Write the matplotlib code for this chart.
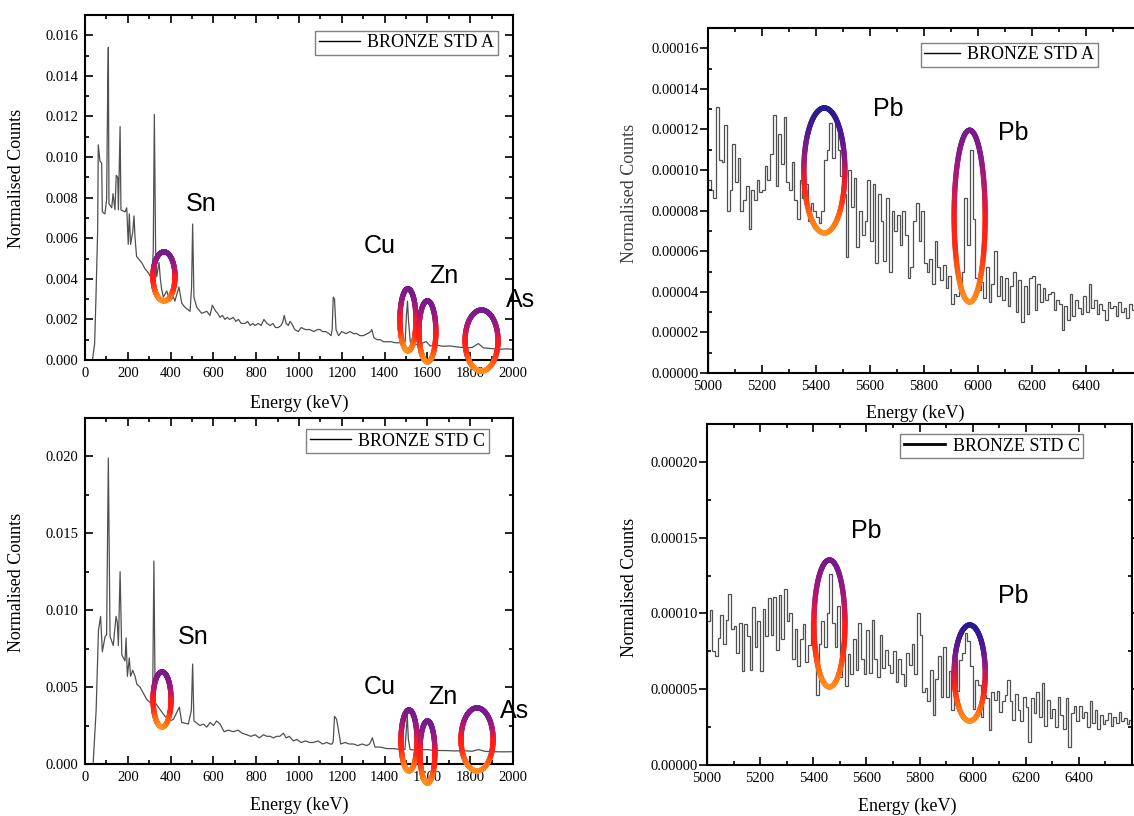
import numpy as np
import matplotlib
matplotlib.use('Agg')
import matplotlib.pyplot as plt
from matplotlib.collections import LineCollection
from matplotlib.colors import LinearSegmentedColormap
from matplotlib.ticker import MultipleLocator, FormatStrFormatter


"""Font Settings"""
plt.rcParams['font.family'] = 'serif'
plt.rcParams['font.serif'] = ['Liberation Serif', 'DejaVu Serif']
plt.rcParams['font.size'] = 10.5


"""Data: wide spectra (energy keV, normalised counts)"""
std_a_energy = [35, 45, 51, 59, 62, 70, 78, 81, 93, 101, 106, 109, 112, 125, 131, 140, 146, 153, 156,
                164, 168, 187, 195, 202, 207, 213, 223, 229, 234, 241, 257, 265, 280, 296, 312, 319,
                324, 330, 335, 346, 352, 358, 366, 382, 397, 413, 420, 439, 452, 467, 491, 498, 503,
                509, 522, 545, 569, 584, 595,
                611, 620, 631, 642, 654, 665, 676, 693, 705, 717, 730, 748, 760, 772, 784, 794, 810,
                823, 836, 850, 865, 878, 890, 903, 916, 925, 931, 940, 950, 958, 966, 980, 997, 1010,
                1030, 1050, 1070, 1085, 1098, 1110, 1125, 1140, 1150, 1155, 1160, 1166, 1173, 1185,
                1200, 1220, 1238, 1255, 1270, 1285, 1300, 1320, 1335, 1340, 1350, 1365, 1380, 1395,
                1411, 1430, 1450, 1473, 1490, 1496, 1502, 1507, 1512, 1520, 1543, 1570, 1594, 1613,
                1640, 1670, 1706, 1740, 1784, 1810, 1838, 1862, 1900, 1940, 1970, 1994]
std_a_counts = [0.0, 0.0008, 0.0030, 0.0063, 0.0106, 0.0098, 0.0097, 0.0073, 0.0072, 0.0079, 0.0133,
                0.0154, 0.0077, 0.0075, 0.0082, 0.0074, 0.0091, 0.0090, 0.0074, 0.0115, 0.0074,
                0.0073, 0.0075, 0.0057, 0.0072, 0.0057, 0.0063, 0.0071, 0.0060, 0.0051, 0.0049,
                0.0048, 0.0045, 0.0043, 0.0040, 0.0054, 0.0121, 0.0054, 0.0041, 0.0048, 0.0040,
                0.0035, 0.0031, 0.0034, 0.0029, 0.0031, 0.0029, 0.0036, 0.0028, 0.0026, 0.0024,
                0.0036, 0.0067, 0.0031, 0.0026, 0.0023, 0.0024, 0.0022, 0.0027,
                0.0024, 0.0023, 0.0021, 0.0022, 0.0020, 0.0021, 0.0020, 0.0021, 0.0019, 0.0020,
                0.0018, 0.0018, 0.0019, 0.0017, 0.0018, 0.0017, 0.0018, 0.0017, 0.0020, 0.0018,
                0.0017, 0.0018, 0.0016, 0.0016, 0.0017, 0.0019, 0.0022, 0.0018, 0.0017, 0.0019,
                0.0018, 0.0015, 0.0014, 0.0016, 0.0015, 0.0015, 0.0014, 0.0015, 0.0015, 0.0014,
                0.0014, 0.0013, 0.0012, 0.0015, 0.0031, 0.0030, 0.0015, 0.0012, 0.0014, 0.0013,
                0.0014, 0.0013, 0.0013, 0.0012, 0.0012, 0.0013, 0.0014, 0.0015, 0.0011, 0.0010,
                0.0010, 0.0009, 0.0009, 0.0009, 0.00085, 0.00085, 0.0009, 0.0009, 0.0022, 0.0029,
                0.0019, 0.0009, 0.00076, 0.0008, 0.00091, 0.00069, 0.00074, 0.00068, 0.00069,
                0.00064, 0.0006, 0.00062, 0.00081, 0.0006, 0.00056, 0.00053, 0.00055, 0.00053]

std_c_energy = [38, 52, 63, 73, 81, 94, 101, 109, 117, 132, 145, 151, 156, 164, 172, 187, 192, 198,
                207, 213, 223, 234, 242, 257, 273, 288, 304, 316, 322, 328, 342, 358, 374, 397, 413,
                441, 452, 483, 497, 503, 509, 537, 553, 569, 585, 600, 615, 631, 650, 670, 693, 715,
                735, 756, 775, 795, 815, 834, 850, 865, 880, 895, 910, 927, 940, 955, 974, 990, 1010,
                1030, 1050, 1067, 1090, 1110, 1130, 1145, 1155, 1160, 1166, 1176, 1195, 1215, 1235,
                1254, 1275, 1295, 1316, 1330, 1343, 1355, 1380, 1410, 1441, 1470, 1495, 1501, 1506,
                1511, 1519, 1545, 1570, 1597, 1620, 1650, 1690, 1730, 1770, 1810, 1838, 1870, 1911,
                1950, 1997]
std_c_counts = [0.0, 0.0035, 0.0087, 0.0096, 0.0073, 0.0083, 0.0084, 0.0199, 0.0083, 0.0077, 0.0096,
                0.0092, 0.0077, 0.0125, 0.0071, 0.0067, 0.0082, 0.0057, 0.0069, 0.0057, 0.0061,
                0.0057, 0.0052, 0.0050, 0.0046, 0.0042, 0.0040, 0.0040, 0.0132, 0.0040, 0.0037,
                0.0034, 0.0031, 0.0028, 0.0029, 0.0037, 0.0027, 0.0026, 0.0035, 0.0065, 0.0028,
                0.0025, 0.0026, 0.0024, 0.0027, 0.0025, 0.0028, 0.0026, 0.0021, 0.0022, 0.0021,
                0.0022, 0.0020, 0.0019, 0.0018, 0.0019, 0.0017, 0.0019, 0.0018, 0.0018, 0.0017,
                0.0018, 0.0018, 0.0020, 0.0017, 0.0018, 0.0015, 0.0016, 0.0014, 0.0015, 0.0014,
                0.0014, 0.0015, 0.0013, 0.0014, 0.0013, 0.0013, 0.0015, 0.0031, 0.0029, 0.0013,
                0.0014, 0.0013, 0.0013, 0.0012, 0.0013, 0.0012, 0.0013, 0.0017, 0.0011, 0.0011,
                0.0010, 0.0010, 0.00095, 0.00094, 0.0021, 0.0032, 0.0016, 0.00094, 0.0009,
                0.00092, 0.00094, 0.0009, 0.00088, 0.00087, 0.00085, 0.00086, 0.00083, 0.00094,
                0.00082, 0.0008, 0.00079, 0.0008]

"""Data: Pb region, 10 keV bins from 5000 keV, counts in units of 1e-5"""
pb_start = 5000
pb_bin = 10
std_a_pb = [9.5, 9.0, 8.6, 13.1, 10.5, 10.4, 12.2, 8.0, 9.0, 11.3,
            9.4, 10.6, 8.0, 8.5, 9.2, 7.1, 9.0, 8.5, 9.5, 8.9,
            9.0, 10.2, 9.5, 10.8, 12.7, 9.2, 11.8, 10.3, 12.6, 9.4,
            9.0, 10.4, 8.5, 7.6, 9.5, 8.6, 9.3, 7.5, 8.4, 8.0,
            7.7, 7.4, 8.0, 10.5, 11.0, 12.3, 10.6, 12.3, 11.0, 9.7,
            8.8, 5.7, 10.0, 8.2, 9.6, 6.2, 8.0, 6.8, 7.5, 9.5,
            6.5, 9.3, 5.4, 8.8, 7.5, 5.5, 8.6, 5.0, 8.0, 7.0,
            7.8, 6.3, 8.0, 6.8, 4.7, 5.2, 7.5, 8.4, 6.5, 8.0,
            5.4, 5.0, 5.6, 4.4, 6.5, 5.2, 4.6, 5.3, 4.2, 4.8,
            3.4, 3.9, 3.8, 4.3, 5.0, 8.6, 6.3, 11.0, 7.6, 4.7,
            4.1, 4.5, 3.7, 5.2, 3.5, 4.4, 6.0, 3.8, 4.8, 3.6,
            4.7, 3.3, 4.3, 5.0, 3.0, 4.6, 2.5, 4.3, 2.9, 4.7,
            4.8, 3.1, 4.4, 3.5, 4.2, 3.6, 3.9, 4.0, 3.1, 3.6,
            3.4, 2.1, 3.3, 2.6, 3.9, 2.8, 3.6, 3.2, 2.9, 3.8,
            3.0, 4.4, 3.2, 3.6, 2.9, 3.4, 3.1, 2.6, 3.5, 3.2,
            3.3, 2.8, 3.5, 3.0, 3.2, 2.7, 3.4, 3.1, 2.9, 3.0]
std_c_pb = [9.5, 10.2, 7.5, 7.2, 8.4, 9.9, 8.0, 9.6, 11.3, 9.0,
            9.2, 7.4, 9.4, 6.2, 9.3, 8.5, 6.3, 10.4, 7.8, 9.5,
            6.2, 10.3, 8.5, 11.0, 8.6, 11.1, 7.6, 11.2, 8.3, 11.6,
            9.5, 10.0, 7.0, 9.0, 6.5, 8.3, 9.3, 6.8, 7.9, 9.5,
            7.4, 4.6, 8.0, 9.5, 7.8, 10.0, 12.6, 9.4, 7.8, 10.5,
            5.8, 7.4, 5.2, 7.3, 6.0, 8.3, 6.3, 9.4, 7.0, 6.0,
            8.9, 6.1, 9.6, 7.0, 5.8, 8.6, 6.4, 7.6, 6.6, 6.1,
            7.5, 5.5, 7.0, 6.0, 5.2, 7.4, 6.6, 8.0, 6.0, 10.0,
            8.6, 4.8, 5.1, 4.2, 6.3, 3.3, 5.7, 7.2, 4.5, 7.8,
            4.5, 6.2, 3.6, 7.0, 4.9, 6.9, 7.4, 8.7, 8.2, 6.5,
            3.7, 5.6, 5.3, 3.2, 4.6, 4.4, 2.3, 4.8, 4.3, 4.9,
            3.5, 4.2, 4.6, 5.6, 4.2, 3.0, 4.7, 3.6, 2.9, 4.5,
            3.8, 1.5, 4.4, 3.4, 4.8, 3.2, 5.4, 2.6, 4.3, 3.1,
            3.7, 2.5, 4.5, 3.3, 2.4, 4.4, 1.2, 3.4, 3.9, 2.9,
            3.9, 3.1, 3.5, 2.5, 4.2, 2.8, 3.6, 2.4, 3.3, 2.7,
            3.0, 3.4, 2.6, 3.2, 2.8, 3.5, 2.9, 3.1, 2.7, 3.0]

"""Annotations: element label (name, x, y) and rings (cx, cy, w, h, top colour)"""
tl_labels = [('Sn', 542, 0.0077), ('Cu', 1379, 0.00563), ('Zn', 1677, 0.00415), ('As', 2037, 0.00296)]
tl_rings = [(369, 0.00412, 103, 0.00242, 'p'), (1509, 0.00198, 75, 0.00306, 'p'),
            (1600, 0.00141, 79, 0.00301, 'p'), (1853, 0.00096, 154, 0.00301, 'p')]
bl_labels = [('Sn', 505, 0.00824), ('Cu', 1379, 0.00502), ('Zn', 1673, 0.00433), ('As', 2009, 0.00345)]
bl_rings = [(360, 0.0042, 84, 0.00358, 'p'), (1514, 0.00153, 75, 0.00397, 'p'),
            (1600, 0.00078, 70, 0.00404, 'p'), (1832, 0.0016, 150, 0.0041, 'p')]
tr_labels = [('Pb', 5667, 0.000130), ('Pb', 6130, 0.0001185)]
tr_rings = [(5431, 0.0000998, 152, 0.0000616, 'b'), (5969, 0.0000773, 115, 0.0000847, 'p')]
br_labels = [('Pb', 5599, 0.0001545), ('Pb', 6153, 0.0001116)]
br_rings = [(5461, 0.0000934, 117, 0.0000838, 'p'), (5989, 0.0000607, 117, 0.0000634, 'b')]


W, H = 1134, 816
fig = plt.figure(figsize=(W / 100, H / 100), dpi=100, facecolor='white')

ring_maps = {
    'p': LinearSegmentedColormap.from_list('ring_p', [(0.0, '#ff9020'), (0.15, '#ff6414'), (0.3, '#ff2a14'),
                                                      (0.5, '#ff1a1a'), (0.68, '#b8186a'), (0.85, '#8a1a88'),
                                                      (1.0, '#761a8c')]),
    'b': LinearSegmentedColormap.from_list('ring_b', [(0.0, '#ff9020'), (0.15, '#ff6414'), (0.3, '#ff2a14'),
                                                      (0.45, '#e01a38'), (0.62, '#8a1a88'), (0.8, '#4e1a92'),
                                                      (1.0, '#281a90')]),
}


def px_axes(left, top, right, bottom):
    return fig.add_axes([left / W, 1 - bottom / H, (right - left) / W, (bottom - top) / H])


def ring(ax, cx, cy, w, h, kind):
    t = np.linspace(0, 2 * np.pi, 241)
    x = cx + w / 2 * np.cos(t)
    y = cy + h / 2 * np.sin(t)
    pts = np.column_stack([x, y]).reshape(-1, 1, 2)
    segs = np.concatenate([pts[:-1], pts[1:]], axis=1)
    lc = LineCollection(segs, cmap=ring_maps[kind], linewidths=3.8, capstyle='round',
                        zorder=5, clip_on=False)
    lc.set_array((np.sin(t[:-1] + np.pi / 240) + 1) / 2)
    lc.set_clim(0, 1)
    ax.add_collection(lc)


def style(ax, wide):
    for s in ax.spines.values():
        s.set_linewidth(1.5)
        s.set_color('black')
    ax.tick_params(which='both', direction='in', top=True, right=True, width=1.2, labelsize=10.5)
    ax.tick_params(which='major', length=5.5, pad=5)
    ax.tick_params(which='minor', length=3)
    if not wide:
        ax.tick_params(axis='y', which='major', direction='out', pad=1)


def decorate(ax, labels, rings, anchor, handle=2.3, lw_legend=1.0):
    for name, x, y in labels:
        ax.text(x, y, name, family='Liberation Sans', fontsize=18, ha='center', va='center', zorder=6)
    for cx, cy, w, h, kind in rings:
        ring(ax, cx, cy, w, h, kind)
    leg = ax.legend(loc='upper right', bbox_to_anchor=anchor, borderaxespad=0, fancybox=False,
                    fontsize=13, handlelength=handle, borderpad=0.2, handletextpad=0.4, framealpha=1)
    leg.get_frame().set_edgecolor('#808080')
    leg.get_frame().set_linewidth(1.0)
    leg.get_lines()[0].set_color('black')
    leg.get_lines()[0].set_linewidth(lw_legend)


"""Top left: BRONZE STD A full"""
ax1 = px_axes(85, 15, 513, 360)
ax1.plot(std_a_energy, std_a_counts, color='#505050', lw=0.9, label='BRONZE STD A')
ax1.set_xlim(0, 2000)
ax1.set_ylim(0, 0.0170)
ax1.xaxis.set_major_locator(MultipleLocator(200))
ax1.xaxis.set_minor_locator(MultipleLocator(100))
ax1.yaxis.set_major_locator(MultipleLocator(0.002))
ax1.yaxis.set_minor_locator(MultipleLocator(0.001))
ax1.yaxis.set_major_formatter(FormatStrFormatter('%.3f'))
style(ax1, True)
ax1.set_xlabel('Energy (keV)', fontsize=13)
ax1.set_ylabel('Normalised Counts', fontsize=13)
ax1.xaxis.set_label_coords(0.5, -0.101)
ax1.yaxis.set_label_coords(-0.140, 0.525)
decorate(ax1, tl_labels, tl_rings, (0.965, 0.954))

"""Top right: BRONZE STD A Pb region"""
edges = pb_start + pb_bin * np.arange(len(std_a_pb) + 1)
ax2 = px_axes(708, 28, 1140, 373)
ax2.stairs(np.array(std_a_pb) * 1e-5, edges, color='#505050', lw=0.9, label='BRONZE STD A')
ax2.set_xlim(5000, 6600)
ax2.set_ylim(0, 0.000170)
ax2.set_xticks(np.arange(5000, 6401, 200))
ax2.xaxis.set_minor_locator(MultipleLocator(100))
ax2.yaxis.set_major_locator(MultipleLocator(0.00002))
ax2.yaxis.set_minor_locator(MultipleLocator(0.00001))
ax2.yaxis.set_major_formatter(FormatStrFormatter('%.5f'))
style(ax2, False)
ax2.set_xlabel('Energy (keV)', fontsize=13)
ax2.set_ylabel('Normalised Counts', fontsize=13, color='#404040')
ax2.xaxis.set_label_coords(0.48, -0.093)
ax2.yaxis.set_label_coords(-0.162, 0.52)
decorate(ax2, tr_labels, tr_rings, (0.903, 0.957), handle=2.0)

"""Bottom left: BRONZE STD C full"""
ax3 = px_axes(85, 418, 513, 764)
ax3.plot(std_c_energy, std_c_counts, color='#505050', lw=0.9, label='BRONZE STD C')
ax3.set_xlim(0, 2000)
ax3.set_ylim(0, 0.0225)
ax3.xaxis.set_major_locator(MultipleLocator(200))
ax3.xaxis.set_minor_locator(MultipleLocator(100))
ax3.yaxis.set_major_locator(MultipleLocator(0.005))
ax3.yaxis.set_minor_locator(MultipleLocator(0.0025))
ax3.yaxis.set_major_formatter(FormatStrFormatter('%.3f'))
style(ax3, True)
ax3.set_xlabel('Energy (keV)', fontsize=13)
ax3.set_ylabel('Normalised Counts', fontsize=13)
ax3.xaxis.set_label_coords(0.5, -0.095)
ax3.yaxis.set_label_coords(-0.140, 0.526)
decorate(ax3, bl_labels, bl_rings, (0.944, 0.968))

"""Bottom right: BRONZE STD C Pb region"""
edges = pb_start + pb_bin * np.arange(len(std_c_pb) + 1)
ax4 = px_axes(707, 424, 1132, 765)
ax4.stairs(np.array(std_c_pb) * 1e-5, edges, color='#505050', lw=0.9, label='BRONZE STD C')
ax4.set_xlim(5000, 6600)
ax4.set_ylim(0, 0.000225)
ax4.set_xticks(np.arange(5000, 6401, 200))
ax4.xaxis.set_minor_locator(MultipleLocator(100))
ax4.yaxis.set_major_locator(MultipleLocator(0.00005))
ax4.yaxis.set_minor_locator(MultipleLocator(0.000025))
ax4.yaxis.set_major_formatter(FormatStrFormatter('%.5f'))
style(ax4, False)
ax4.set_xlabel('Energy (keV)', fontsize=13)
ax4.set_ylabel('Normalised Counts', fontsize=13)
ax4.xaxis.set_label_coords(0.47, -0.097)
ax4.yaxis.set_label_coords(-0.162, 0.52)
decorate(ax4, br_labels, br_rings, (0.885, 0.971), lw_legend=2.0)

fig.savefig('out.png', dpi=100, facecolor='white')
